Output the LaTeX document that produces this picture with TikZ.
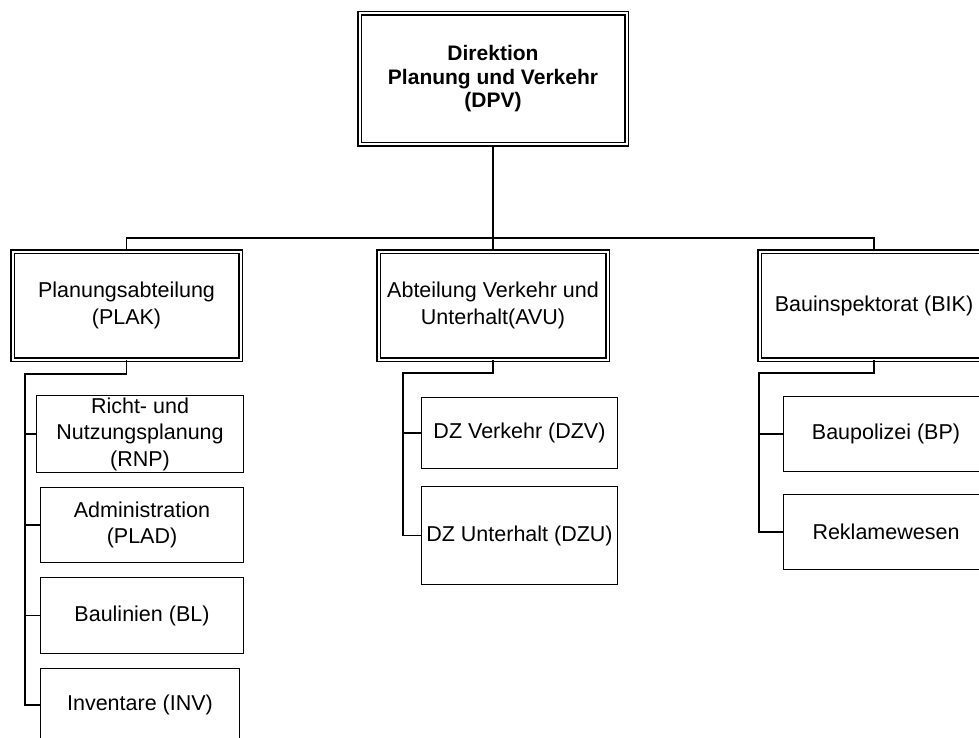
\documentclass[tikz,border=0pt]{standalone}
\usepackage{fontspec}
\setmainfont{Liberation Sans}
\usetikzlibrary{positioning}

\begin{document}
\begin{tikzpicture}[x=1pt,y=-1pt,
        box/.style={draw,line width=1.6pt,inner sep=0pt,align=center,
            font=\fontsize{21.5}{26.5}\selectfont},
        dbox/.style={box,double,double distance=2pt,line width=1.4pt}]

        \useasboundingbox (0,0) rectangle (979,738);
        \clip (0,0) rectangle (979,738);

        \begin{scope}[every node/.style={dbox}]
            \node[minimum width=267pt,minimum height=131pt,
                font=\bfseries\fontsize{21}{23.5}\selectfont] (DPV) at (493,79) {Direktion\\Planung und Verkehr\\(DPV)};
            \node[minimum width=228pt,minimum height=108pt] (PLAK) at (126.5,305.5) {Planungsabteilung\\(PLAK)};
            \node[minimum width=229pt,minimum height=108pt] (AVU) at (493,305.5) {Abteilung Verkehr und\\Unterhalt(AVU)};
            \node[minimum width=229pt,minimum height=108pt] (BIK) at (874,305.5) {Bauinspektorat (BIK)};
        \end{scope}

        \begin{scope}[every node/.style={box}]
            \node[minimum width=207pt,minimum height=77pt] (RNP) at (140,434) {Richt- und\\Nutzungsplanung\\(RNP)};
            \node[minimum width=203pt,minimum height=75pt] (ADM) at (142,525) {Administration\\(PLAD)};
            \node[minimum width=203pt,minimum height=76pt] (BL) at (142,615.5) {Baulinien (BL)};
            \node[minimum width=199pt,minimum height=73pt] (INV) at (140,705) {Inventare (INV)};
            \node[minimum width=196pt,minimum height=71pt] (DZV) at (519.5,433) {DZ Verkehr (DZV)};
            \node[minimum width=196pt,minimum height=98pt] (DZU) at (519.5,535.5) {DZ Unterhalt (DZU)};
            \node[minimum width=205pt,minimum height=75pt] (BP) at (886,434) {Baupolizei (BP)};
            \node[minimum width=205pt,minimum height=75pt] (REK) at (886,532) {Reklamewesen};
        \end{scope}

        \coordinate (bus) at (493,238);
        \coordinate (lk) at (25,374);
        \coordinate (mk) at (403,373);
        \coordinate (rk) at (759,373);

        \begin{scope}[line width=1.5pt]
            \draw (DPV) -- (AVU);
            \draw (PLAK.north) |- (bus) -| (BIK.north);
            \draw (PLAK.south) |- (lk) |- (INV.west);
            \foreach \s in {RNP,ADM,BL}
                \draw (lk |- \s.west) -- (\s.west);
            \draw (AVU.south) |- (mk) |- (DZU.west);
            \draw (mk |- DZV.west) -- (DZV.west);
            \draw (BIK.south) |- (rk) |- (REK.west);
            \draw (rk |- BP.west) -- (BP.west);
        \end{scope}

    \end{tikzpicture}
\end{document}
